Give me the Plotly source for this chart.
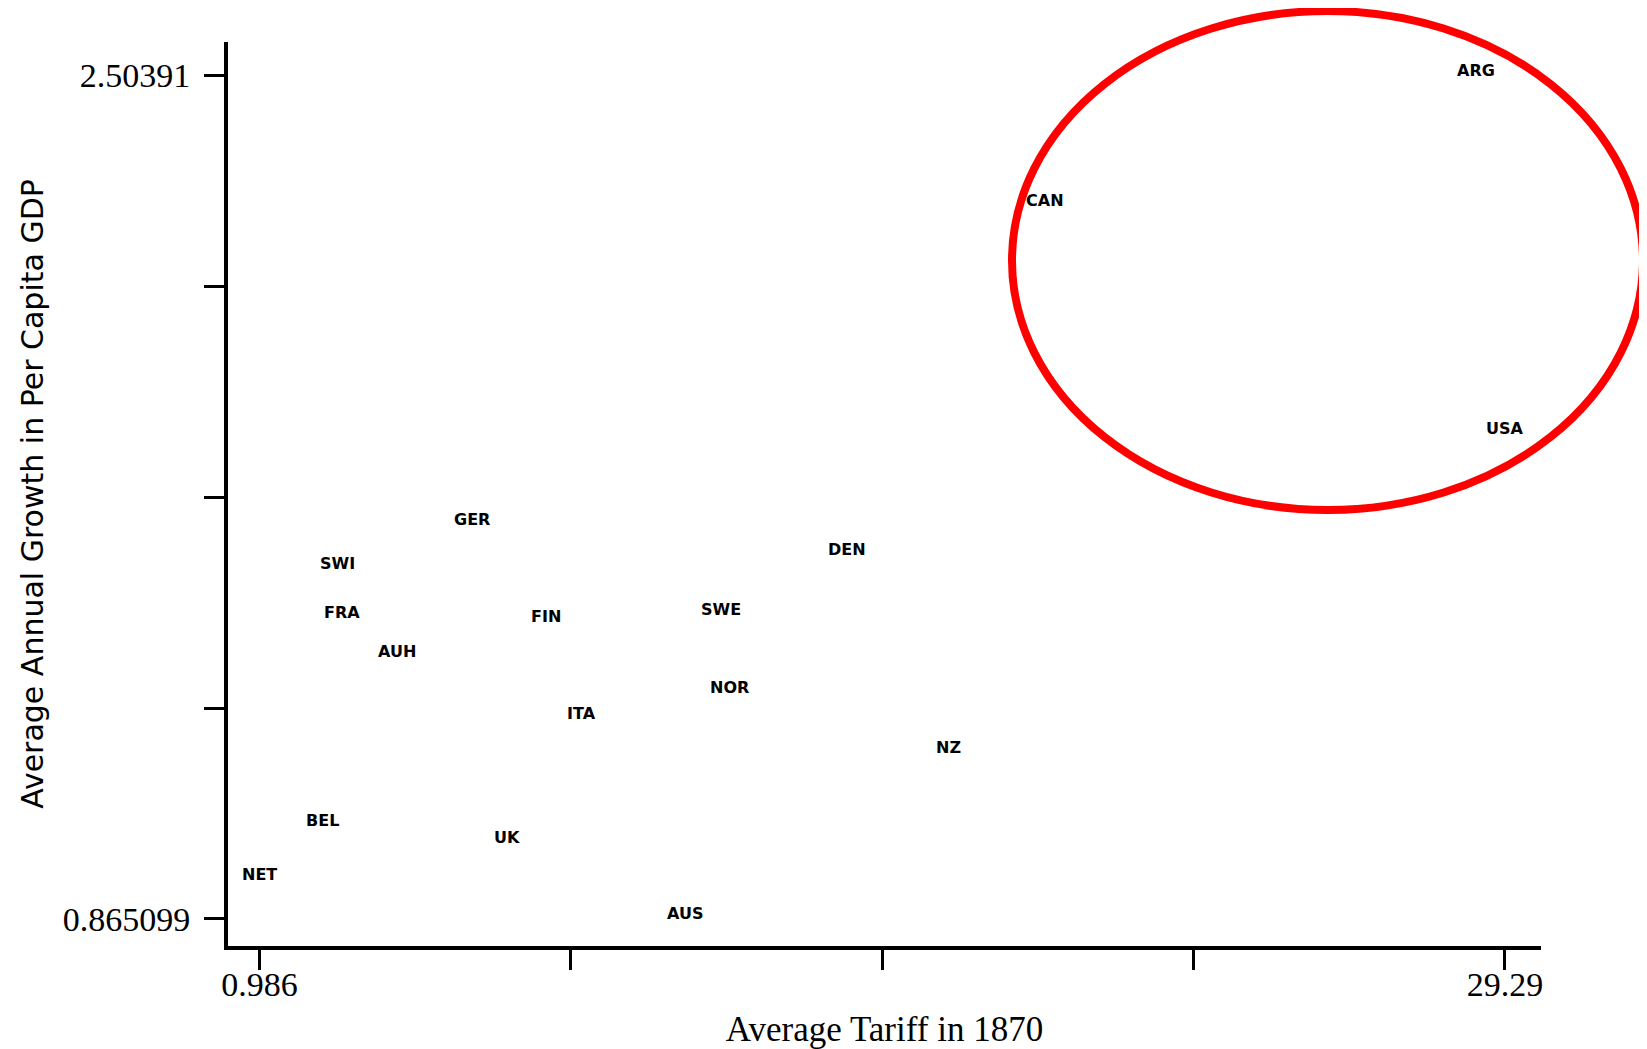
import plotly.graph_objects as go

countries = ["ARG", "CAN", "USA", "GER", "DEN", "SWI", "FRA", "FIN", "SWE",
             "AUH", "NOR", "ITA", "NZ", "BEL", "UK", "NET", "AUS"]
tariff_1870 = [28.63, 18.84, 29.29, 5.81, 14.33, 2.75, 2.87, 7.50, 11.47,
               4.11, 11.66, 8.31, 16.65, 2.42, 6.62, 0.986, 10.65]
gdp_growth = [2.50391, 2.251, 1.808, 1.632, 1.573, 1.547, 1.451, 1.444, 1.457,
              1.375, 1.306, 1.255, 1.189, 1.047, 1.014, 0.942, 0.865099]

x_ticks = [0.986, 8.062, 15.138, 22.214, 29.29]
x_tick_text = ["0.986", "", "", "", "29.29"]
y_ticks = [0.865099, 1.274802, 1.684504, 2.094207, 2.50391]
y_tick_text = ["0.865099", "", "", "", "2.50391"]

fig = go.Figure()
# invisible points carry the data; labels are drawn as annotations at them
fig.add_trace(go.Scatter(
    x=tariff_1870, y=gdp_growth, mode="markers",
    marker=dict(size=1, opacity=0),
    showlegend=False, hoverinfo="skip",
))
for name, xv, yv in zip(countries, tariff_1870, gdp_growth):
    fig.add_annotation(
        x=xv, y=yv, xref="x", yref="y", text=name, showarrow=False,
        yshift=5, xanchor="center", yanchor="middle",
        font=dict(family="DejaVu Sans", size=16, color="black", weight="bold"),
    )

fig.update_layout(
    width=1639, height=1041,
    paper_bgcolor="white", plot_bgcolor="white",
    margin=dict(l=220, r=106, t=34, b=103),
    xaxis=dict(
        range=[0.27, 30.11], showgrid=False, zeroline=False,
        showline=True, linecolor="black", linewidth=4,
        tickmode="array", tickvals=x_ticks, ticktext=x_tick_text,
        ticks="outside", ticklen=20, tickwidth=3, tickcolor="black",
        ticklabelstandoff=-15,
        tickfont=dict(family="Liberation Serif", size=34, color="black"),
        title=dict(text="Average Tariff in 1870",
                   font=dict(family="Liberation Serif", size=35, color="black"),
                   standoff=21),
        automargin=False,
    ),
    yaxis=dict(
        range=[0.8126, 2.569], showgrid=False, zeroline=False,
        showline=True, linecolor="black", linewidth=4,
        tickmode="array", tickvals=y_ticks, ticktext=y_tick_text,
        ticks="outside", ticklen=20, tickwidth=3, tickcolor="black",
        ticklabelstandoff=7,
        tickfont=dict(family="Liberation Serif", size=34, color="black"),
        title=dict(text="Average Annual Growth in Per Capita GDP",
                   font=dict(family="DejaVu Sans", size=30, color="black"),
                   standoff=11),
        automargin=False,
    ),
)

fig.add_shape(type="circle", xref="paper", yref="paper",
              x0=0.5971, x1=1.0777, y0=0.4823, y1=1.0343,
              line=dict(color="#ff0000", width=8), layer="above")

fig.write_html("out.html")
